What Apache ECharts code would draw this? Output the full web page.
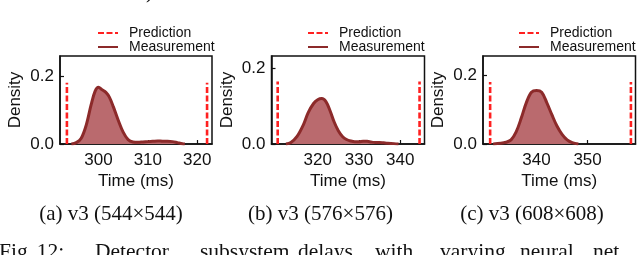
<!DOCTYPE html>
<html>
<head>
<meta charset="utf-8">
<script src="https://cdn.jsdelivr.net/npm/echarts@6/dist/echarts.min.js"></script>
<style>
html,body{margin:0;padding:0;background:#fff;}
#c{width:640px;height:255px;}
</style>
</head>
<body>
<div id="c"></div>
<script>
// ---- data ----
const xTicksA = [300, 310, 320];
const xTicksB = [320, 330, 340];
const xTicksC = [340, 350];
const yTicks = [0.0, 0.2];

const predA = [293.6, 322.0];
const predB = [310.3, 344.7];
const predC = [330.9, 358.5];
const predHeightA = 0.18;
const predHeightB = 0.165;
const predHeightC = 0.18;

const kdeAx = [294.5, 295.5, 296.5, 297.5, 298.5, 299.3, 300.0, 300.7, 301.5, 302.2, 303.0, 304.0, 305.0, 306.0, 307.0, 308.0, 309.0, 310.0, 311.0, 312.0, 313.0, 314.0, 315.0, 316.0, 317.0, 317.5];
const kdeAy = [0.000, 0.004, 0.017, 0.055, 0.115, 0.155, 0.167, 0.160, 0.152, 0.138, 0.110, 0.070, 0.035, 0.013, 0.006, 0.005, 0.006, 0.007, 0.008, 0.009, 0.008, 0.008, 0.007, 0.004, 0.001, 0.000];

const kdeBx = [312.3, 313.5, 315.0, 316.5, 317.7, 319.0, 320.0, 321.0, 322.0, 323.0, 324.0, 325.0, 326.0, 327.0, 328.0, 329.0, 330.0, 331.0, 332.0, 333.0, 334.0, 335.0, 336.0, 337.0, 338.5, 339.6];
const kdeBy = [0.000, 0.004, 0.020, 0.050, 0.083, 0.107, 0.117, 0.120, 0.112, 0.088, 0.058, 0.035, 0.020, 0.012, 0.008, 0.006, 0.006, 0.007, 0.007, 0.005, 0.004, 0.004, 0.003, 0.002, 0.001, 0.000];

const kdeCx = [331.5, 333.0, 334.0, 335.0, 336.0, 337.0, 338.0, 339.0, 340.0, 341.0, 342.0, 343.0, 344.0, 345.0, 346.0, 347.0, 348.2];
const kdeCy = [0.000, 0.002, 0.005, 0.012, 0.035, 0.075, 0.120, 0.150, 0.155, 0.150, 0.120, 0.085, 0.052, 0.028, 0.012, 0.004, 0.000];

const xRangeA = [292.2, 323.0];
const xRangeB = [308.8, 345.9];
const xRangeC = [329.5, 359.4];
const yMaxA = 0.259, yMaxB = 0.2325, yMaxC = 0.255;

const subCaptions = ['(a) v3 (544\u00d7544)', '(b) v3 (576\u00d7576)', '(c) v3 (608\u00d7608)'];
const captionWords = ['Fig.', '12:', 'Detector', 'subsystem', 'delays', 'with', 'varying', 'neural', 'net'];
// ---------------------------------------

const SANS = 'Liberation Sans, Arial, sans-serif';
const SERIF = 'Liberation Serif, Times New Roman, serif';
const PRED_COLOR = '#ff2020';
const KDE_COLOR = '#8c2a2a';

const panels = [
  {left: 60, width: 152, xr: xRangeA, ymax: yMaxA, xt: xTicksA, pred: predA, ph: predHeightA, kx: kdeAx, ky: kdeAy, legLeft: 97},
  {left: 271.5, width: 153, xr: xRangeB, ymax: yMaxB, xt: xTicksB, pred: predB, ph: predHeightB, kx: kdeBx, ky: kdeBy, legLeft: 307},
  {left: 483, width: 152.5, xr: xRangeC, ymax: yMaxC, xt: xTicksC, pred: predC, ph: predHeightC, kx: kdeCx, ky: kdeCy, legLeft: 518}
];

const grid = [], xAxis = [], yAxis = [], series = [], legend = [];
panels.forEach((p, i) => {
  grid.push({left: p.left, top: 56, width: p.width, height: 88, show: true, borderColor: '#111', borderWidth: 1.5, backgroundColor: 'transparent'});
  xAxis.push({
    type: 'value', gridIndex: i, min: p.xr[0], max: p.xr[1],
    name: 'Time (ms)', nameLocation: 'middle', nameGap: 29,
    nameTextStyle: {fontFamily: SANS, fontSize: 17, color: '#111'},
    axisLine: {show: true, lineStyle: {color: '#111', width: 1.5}},
    axisTick: {show: true, inside: true, length: 4, lineStyle: {color: '#111', width: 1.2}, customValues: p.xt},
    axisLabel: {fontFamily: SANS, fontSize: 17, color: '#111', margin: 8, customValues: p.xt},
    splitLine: {show: false}
  });
  yAxis.push({
    type: 'value', gridIndex: i, min: 0, max: p.ymax,
    name: 'Density', nameLocation: 'middle', nameGap: 36, nameRotate: 90,
    nameTextStyle: {fontFamily: SANS, fontSize: 17, color: '#111'},
    axisLine: {show: true, lineStyle: {color: '#111', width: 1.5}},
    axisTick: {show: true, inside: true, length: 4, lineStyle: {color: '#111', width: 1.2}, customValues: yTicks},
    axisLabel: {fontFamily: SANS, fontSize: 17, color: '#111', margin: 6, customValues: yTicks, formatter: v => v.toFixed(1)},
    splitLine: {show: false}
  });
  series.push({
    name: 'Measurement', type: 'line', xAxisIndex: i, yAxisIndex: i,
    data: p.kx.map((x, k) => [x, p.ky[k]]),
    smooth: 0.35, symbol: 'none',
    lineStyle: {color: KDE_COLOR, width: 3},
    itemStyle: {color: KDE_COLOR},
    areaStyle: {color: '#ba6a6e', opacity: 1},
    z: 3
  });
  p.pred.forEach(x => {
    series.push({
      name: 'Prediction', type: 'line', xAxisIndex: i, yAxisIndex: i,
      data: [[x, 0], [x, p.ph]], symbol: 'none',
      lineStyle: {color: PRED_COLOR, width: 2.6, type: [6, 2.5]},
      itemStyle: {color: PRED_COLOR},
      z: 4
    });
  });
  legend.push({
    show: true, orient: 'vertical', left: p.legLeft, top: 26, padding: 0,
    itemWidth: 20, itemHeight: 10, itemGap: 0,
    data: ['Prediction', 'Measurement'],
    itemStyle: {color: 'transparent', borderWidth: 0, opacity: 0},
    textStyle: {fontFamily: SANS, fontSize: 14, color: '#111', lineHeight: 14, padding: [0, 0, 0, 6]},
    selectedMode: false
  });
});

const graphic = [];
const subCx = [111, 320.5, 532];
subCaptions.forEach((t, i) => {
  graphic.push({type: 'text', x: subCx[i], y: 214,
    style: {text: t, fontFamily: SERIF, fontSize: 21, fill: '#111', align: 'center', verticalAlign: 'middle'}});
});
const wordX = [-1, 36.7, 95, 200, 298, 375, 440, 520, 593];
captionWords.forEach((w, i) => {
  graphic.push({type: 'text', x: wordX[i], y: 252,
    style: {text: w, fontFamily: SERIF, fontSize: 21.5, fill: '#111', align: 'left', verticalAlign: 'middle'}});
});
graphic.push({type: 'text', x: 146, y: -8,
  style: {text: ')', fontFamily: SERIF, fontSize: 21, fill: '#111', align: 'left', verticalAlign: 'middle'}});

const chart = echarts.init(document.getElementById('c'), null, {renderer: 'canvas'});
chart.setOption({
  animation: false,
  backgroundColor: '#fff',
  grid, xAxis, yAxis, series, legend, graphic
});
</script>
</body>
</html>
